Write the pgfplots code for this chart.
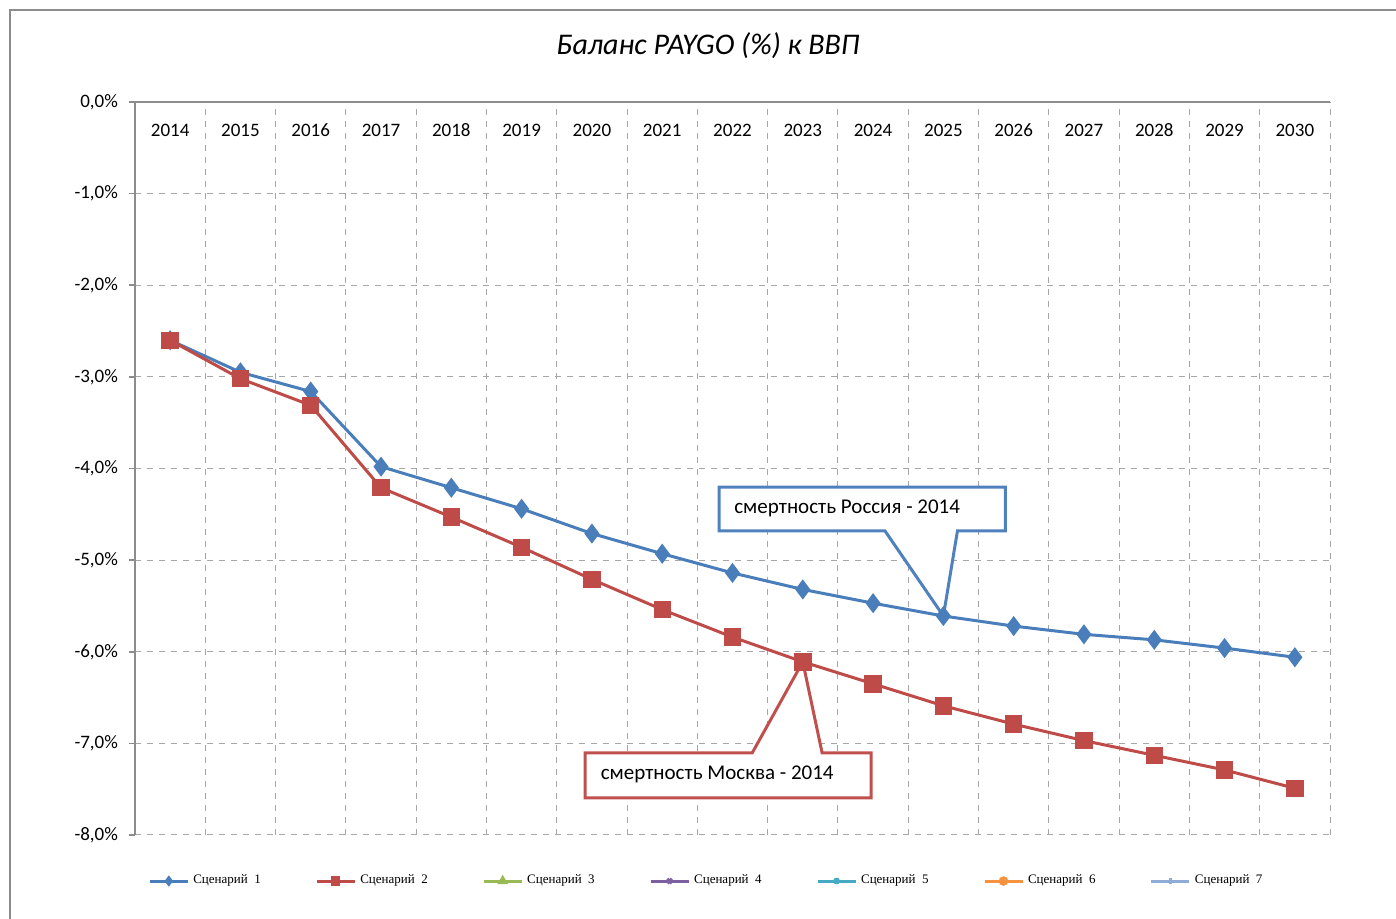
\documentclass[border=0pt]{standalone}
\usepackage{pgfplots}
\pgfplotsset{compat=1.18}
\usepackage{fontspec}
\setmainfont{Carlito}
\newfontfamily\legendfont{Liberation Serif}
\definecolor{s1}{HTML}{4A7EBB}
\definecolor{s2}{HTML}{BE4B48}
\definecolor{s3}{HTML}{98B954}
\definecolor{s4}{HTML}{7D60A0}
\definecolor{s5}{HTML}{46AAC5}
\definecolor{s6}{HTML}{F69240}
\definecolor{s7}{HTML}{8EACD6}
\definecolor{c1}{HTML}{4F81BD}
\definecolor{c2}{HTML}{C0504D}
\definecolor{gridc}{HTML}{A6A6A6}
\definecolor{axc}{HTML}{8C8C8C}
\begin{document}
\begin{tikzpicture}
\useasboundingbox (-67.5pt,-42pt) rectangle (630.5pt,417.5pt);
\draw[axc, line width=0.8pt] (-62.5pt,-42pt) -- (-62.5pt,412.5pt) -- (630.5pt,412.5pt);
\begin{axis}[
  at={(0,0)}, anchor=south west,
  scale only axis, width=597.5pt, height=366.5pt,
  xmin=-0.5, xmax=16.5, ymin=-8, ymax=0,
  axis x line*=top, axis y line*=left,
  axis line style={axc, line width=0.8pt},
  xtick={0,...,16},
  xticklabels={2014,2015,2016,2017,2018,2019,2020,2021,2022,2023,2024,2025,2026,2027,2028,2029,2030},
  xticklabel style={anchor=north, yshift=-9pt, font=\fontsize{9.5}{11}\selectfont, text height=1.6ex, text depth=0.2ex},
  x tick style={draw=none},
  minor xtick={-0.5,0.5,...,16.5},
  minor x tick style={draw=none},
  xminorgrids=true,
  ytick={-8,-7,...,0},
  ymajorgrids=true,
  grid style={gridc, dashed, line width=0.5pt},
  minor grid style={gridc, dashed, line width=0.5pt},
  tick align=outside,
  major tick length=3pt,
  y tick style={axc, line width=0.8pt},
  /pgf/number format/assume math mode=true,
  yticklabel={\pgfmathprintnumber[fixed,fixed zerofill,precision=1,use comma]{\tick}\%},
  yticklabel style={font=\fontsize{9.5}{11}\selectfont, xshift=-2pt},
  title={\itshape Баланс PAYGO (\%) к ВВП},
  title style={at={(0.4795,1)}, anchor=center, yshift=22pt, font=\fontsize{15}{18}\selectfont},
  legend columns=7,
  legend style={draw=none, fill=none, at={(0.479,-0.0628)}, anchor=center,
    font=\legendfont\fontsize{6.5}{8}\selectfont,
    /tikz/every even column/.append style={column sep=25.2pt}},
  legend image code/.code={\draw[mark repeat=2,mark phase=2,#1, mark size=1.6pt] plot coordinates {(0pt,0pt) (9.5pt,0pt) (19pt,0pt)};},
  clip=false,
]
\addplot[s1, line width=1.5pt, mark=diamond*, mark size=3.8pt, mark options={solid}] coordinates {
(0,-2.60) (1,-2.95) (2,-3.16) (3,-3.98) (4,-4.21) (5,-4.44) (6,-4.71) (7,-4.93) (8,-5.14)
(9,-5.32) (10,-5.47) (11,-5.61) (12,-5.72) (13,-5.81) (14,-5.87) (15,-5.96) (16,-6.06)};
\addlegendentry{Сценарий\ \ 1}
\addplot[s2, line width=1.5pt, mark=square*, mark size=3.6pt, mark options={solid}] coordinates {
(0,-2.60) (1,-3.02) (2,-3.31) (3,-4.21) (4,-4.53) (5,-4.86) (6,-5.21) (7,-5.54) (8,-5.84)
(9,-6.11) (10,-6.35) (11,-6.59) (12,-6.79) (13,-6.97) (14,-7.13) (15,-7.29) (16,-7.49)};
\addlegendentry{Сценарий\ \ 2}
\addlegendimage{s3, line width=1.5pt, mark=triangle*}
\addlegendentry{Сценарий\ \ 3}
\addlegendimage{s4, line width=1.5pt, mark=x}
\addlegendentry{Сценарий\ \ 4}
\addlegendimage{s5, line width=1.5pt, mark=asterisk}
\addlegendentry{Сценарий\ \ 5}
\addlegendimage{s6, line width=1.5pt, mark=*}
\addlegendentry{Сценарий\ \ 6}
\addlegendimage{s7, line width=1.5pt, mark=|}
\addlegendentry{Сценарий\ \ 7}
% callouts
\draw[c1, line width=1.5pt, fill=white, line join=miter]
  (axis cs:7.81,-4.202) -- (axis cs:11.88,-4.202) -- (axis cs:11.88,-4.682) -- (axis cs:11.20,-4.682)
  -- (axis cs:11,-5.61) -- (axis cs:10.17,-4.682) -- (axis cs:7.81,-4.682) -- cycle;
\node[anchor=west, inner sep=0pt, font=\fontsize{10.5}{12}\selectfont] at (axis cs:8.02,-4.43) {смертность Россия - 2014};
\draw[c2, line width=1.5pt, fill=white, line join=miter]
  (axis cs:5.904,-7.105) -- (axis cs:8.28,-7.105) -- (axis cs:9,-6.11) -- (axis cs:9.275,-7.105)
  -- (axis cs:9.972,-7.105) -- (axis cs:9.972,-7.596) -- (axis cs:5.904,-7.596) -- cycle;
\node[anchor=west, inner sep=0pt, font=\fontsize{10.5}{12}\selectfont] at (axis cs:6.12,-7.334) {смертность Москва - 2014};
\end{axis}
\end{tikzpicture}
\end{document}
